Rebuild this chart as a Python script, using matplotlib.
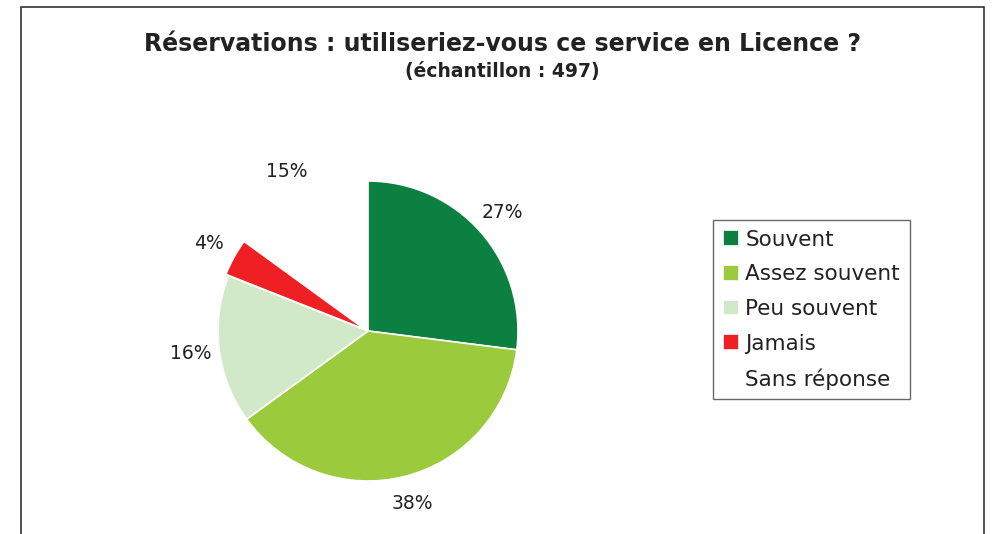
import matplotlib.pyplot as plt
from matplotlib.patches import Rectangle

plt.rcParams['font.family'] = ['DejaVu Sans']

# Données
categories = ['Souvent', 'Assez souvent', 'Peu souvent', 'Jamais', 'Sans réponse']
values = [27, 38, 16, 4, 15]
colors = ['#0b8040', '#9bcb3c', '#d1e8c9', '#ee2024', '#ffffff']
explode = [0, 0, 0, 0.02, 0]

W, H = 993, 534
fig = plt.figure(figsize=(W / 100, H / 100), dpi=100)

# cadre autour du graphique (coupé en bas)
fig.add_artist(Rectangle((21 / W, -0.05), 963 / W, 1.05 - 7 / H,
                         transform=fig.transFigure, fill=False,
                         edgecolor='#333333', linewidth=1.2))

# axes du camembert : centre (368, 331), rayon 150 px
ax = fig.add_axes([218 / W, (H - 481) / H, 300 / W, 300 / H])
wedges, texts, autotexts = ax.pie(values, colors=colors, explode=explode,
                                  startangle=90, counterclock=False,
                                  autopct='%d%%', pctdistance=1.19,
                                  wedgeprops=dict(edgecolor='white', linewidth=1.2),
                                  textprops=dict(fontsize=13.5, color='#222222'))
wedges[-1].set_edgecolor('none')
ax.set_xlim(-1, 1)
ax.set_ylim(-1, 1)
ax.set_aspect('auto')
ax.axis('off')

fig.text(502 / W, 1 - 44 / H, 'Réservations : utiliseriez-vous ce service en Licence ?',
         ha='center', va='center', fontsize=17, fontweight='bold', color='#222222')
fig.text(502 / W, 1 - 72 / H, '(échantillon : 497)',
         ha='center', va='center', fontsize=13.5, fontweight='bold', color='#222222')

leg = fig.legend(wedges, categories, loc='upper left',
                 bbox_to_anchor=(713 / W, 1 - 220 / H), borderaxespad=0,
                 fontsize=15.5, frameon=True, fancybox=False, edgecolor='#444444',
                 handlelength=0.75, handleheight=0.75, handletextpad=0.3,
                 labelspacing=0.68, borderpad=0.45, labelcolor='#222222')
leg.get_frame().set_linewidth(1.0)

fig.savefig('out.png', dpi=100)
